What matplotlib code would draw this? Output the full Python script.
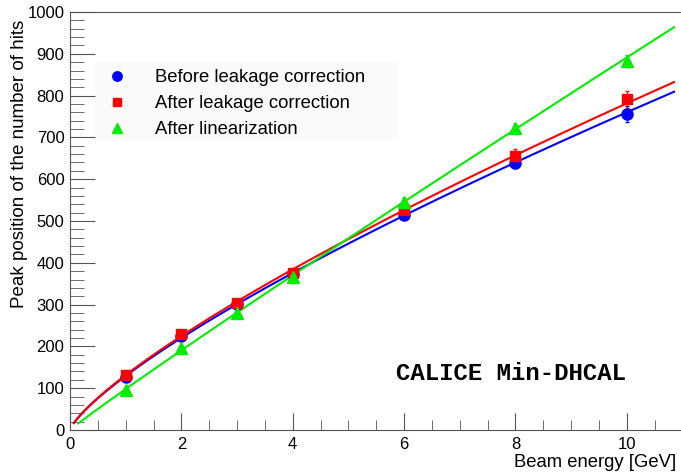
import numpy as np
import matplotlib
matplotlib.use('Agg')
import matplotlib.pyplot as plt
from matplotlib.ticker import MultipleLocator
from matplotlib.lines import Line2D
from matplotlib.patches import Rectangle

plt.rcParams['font.family'] = ['Liberation Sans', 'DejaVu Sans']

energy = [1, 2, 3, 4, 6, 8, 10]
before = [127, 226, 302, 374, 514, 638, 756]
before_err = [3, 4, 5, 6, 8, 12, 20]
after = [131, 230, 305, 376, 526, 656, 791]
after_err = [3, 4, 5, 6, 9, 16, 20]
linear = [96, 197, 281, 367, 546, 723, 883]
linear_err = [3, 4, 5, 6, 8, 10, 14]


def power_fit(x, y):
    b, loga = np.polyfit(np.log(x), np.log(y), 1)
    return np.exp(loga), b


fig = plt.figure(figsize=(6.81, 4.76), dpi=100)
ax = fig.add_axes([70 / 681, 46 / 476, 612.4 / 681, 418 / 476])

series = [
    (before, before_err, 'blue', 'o', 'Before leakage correction', 0.07, 8),
    (after, after_err, 'red', 's', 'After leakage correction', 0.07, 7.5),
    (linear, linear_err, '#00ee00', '^', 'After linearization', 0.15, 8),
]

handles = []
for vals, errs, col, mk, lab, x0, ms in series:
    a, b = power_fit(energy, vals)
    xf = np.linspace(x0, 10.85, 200)
    ax.plot(xf, a * xf ** b, color=col, lw=1.5, zorder=2)
    ax.errorbar(energy, vals, yerr=errs, fmt=mk, color=col, ms=ms,
                elinewidth=0.8, capsize=1.5, zorder=3)
    handles.append(Line2D([], [], ls='none', marker=mk, color=col,
                          ms=ms * 0.85, label=lab))

ax.set_xlim(0, 11)
ax.set_ylim(0, 1000)
ax.xaxis.set_major_locator(MultipleLocator(2))
ax.xaxis.set_minor_locator(MultipleLocator(0.5))
ax.yaxis.set_major_locator(MultipleLocator(100))
ax.yaxis.set_minor_locator(MultipleLocator(20))
ax.tick_params(which='both', direction='in', top=False, right=False,
               labelsize=12, color='#555555')
ax.tick_params(axis='y', which='major', length=18)
ax.tick_params(axis='y', which='minor', length=10)
ax.tick_params(axis='x', which='major', length=12)
ax.tick_params(axis='x', which='minor', length=7)
ax.tick_params(axis='x', pad=5)
ax.tick_params(axis='y', pad=4)
for s in ax.spines.values():
    s.set_color('#555555')

ax.set_xlabel('Beam energy [GeV]', fontsize=13.3, loc='right')
ax.set_ylabel('Peak position of the number of hits', fontsize=13.5,
              loc='top')
ax.xaxis.set_label_coords(606 / 612.4, -24 / 418)
ax.yaxis.set_label_coords(-42 / 612.4, 410 / 418)

# legend background box
fig.patches.append(Rectangle((95 / 681, 1 - 140 / 476), 303 / 681, 78 / 476,
                             transform=fig.transFigure, facecolor='#fafafa',
                             edgecolor='none', zorder=1))
ax.set_zorder(2)
ax.patch.set_alpha(0)

leg = ax.legend(handles=handles, loc='upper left',
                bbox_to_anchor=(92 / 681, 1 - 62 / 476),
                bbox_transform=fig.transFigure, borderaxespad=0,
                fontsize=13.3, frameon=False,
                handletextpad=1.05, labelspacing=0.5, borderpad=0.38,
                handlelength=2.0)

ax.text(5.86, 134, 'CALICE Min-DHCAL', family='Liberation Mono',
        fontweight='bold', fontsize=17.3, va='center', ha='left')

fig.savefig('out.png', dpi=100)
